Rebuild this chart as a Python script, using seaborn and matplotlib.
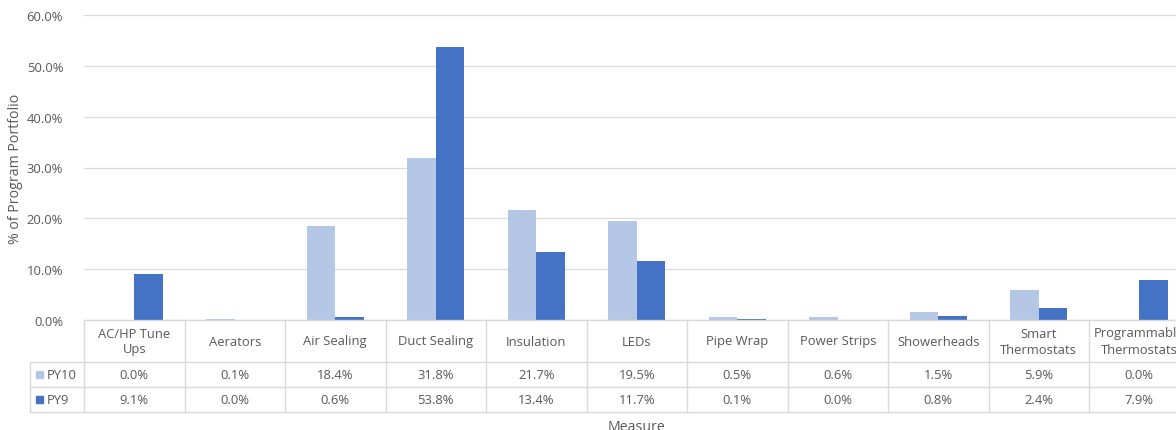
import matplotlib
matplotlib.use("Agg")
import matplotlib.pyplot as plt
import matplotlib.transforms as mtransforms
from matplotlib.lines import Line2D
from matplotlib.patches import Rectangle
from matplotlib.ticker import PercentFormatter
import pandas as pd
import seaborn as sns

# Share of program portfolio by measure, two program years
measures = ["AC/HP Tune\nUps", "Aerators", "Air Sealing", "Duct Sealing", "Insulation",
            "LEDs", "Pipe Wrap", "Power Strips", "Showerheads", "Smart\nThermostats",
            "Programmable\nThermostats"]
series = ["PY10", "PY9"]
py10 = [0.0, 0.1, 18.4, 31.8, 21.7, 19.5, 0.5, 0.6, 1.5, 5.9, 0.0]
py9 = [9.1, 0.0, 0.6, 53.8, 13.4, 11.7, 0.1, 0.0, 0.8, 2.4, 7.9]
colors = {"PY10": "#B4C7E7", "PY9": "#4472C4"}

df = pd.DataFrame({
    "Measure": measures * 2,
    "Series": ["PY10"] * len(measures) + ["PY9"] * len(measures),
    "Value": py10 + py9,
})

sns.set_theme(style="white")
plt.rcParams["font.family"] = ["Open Sans", "DejaVu Sans"]
TXT = "#595959"
GRID = "#D9D9D9"

W, H = 1176, 431
fig = plt.figure(figsize=(W / 100, H / 100), dpi=100)

def fx(px):
    return px / W

def fy(py):
    return 1 - py / H

# plot area (extends slightly past the right edge of the canvas)
left, right, top, bottom = 84, 1189.5, 16, 321
ax = fig.add_axes([fx(left), fy(bottom), fx(right - left), fy(top) - fy(bottom)])

sns.barplot(data=df, x="Measure", y="Value", hue="Series", hue_order=series,
            palette=colors, width=0.57, dodge=True, ax=ax, legend=False,
            saturation=1, linewidth=0)

fs = 9.4
ax.set_ylim(0, 60)
ax.set_xlim(-0.5, len(measures) - 0.5)
ax.set_yticks(range(0, 61, 10))
ax.yaxis.set_major_formatter(PercentFormatter(decimals=1))
ax.tick_params(axis="y", length=0, labelsize=fs, labelcolor=TXT, pad=15)
ax.set_xticks([])
ax.set_xlabel("")
ax.set_ylabel("% of Program Portfolio", fontsize=10.2, color=TXT)
ax.yaxis.set_label_coords(-(84 - 23) / (right - left), 0.5)
ax.grid(axis="y", color=GRID, linewidth=0.9)
ax.set_axisbelow(True)
for s in ax.spines.values():
    s.set_visible(False)

# data table under the axis: x in category units, y in figure fraction
tr = mtransforms.blended_transform_factory(ax.transData, fig.transFigure)
tr_fig = fig.transFigure
y_top, y_hdr, y_r1, y_r2 = 321, 363, 388, 413
x0, x1 = -0.5, len(measures) - 0.5
lw = 1.0

def hline(py, xa, xb, transform):
    fig.add_artist(Line2D([xa, xb], [fy(py), fy(py)], color=GRID, lw=lw,
                          transform=transform, clip_on=False))

def vline(x, pa, pb, transform):
    fig.add_artist(Line2D([x, x], [fy(pa), fy(pb)], color=GRID, lw=lw,
                          transform=transform, clip_on=False))

hline(y_top, x0, x1, tr)
for py in (y_hdr, y_r1, y_r2):
    hline(py, x0, x1, tr)
    hline(py, fx(30), fx(84), tr_fig)
for i in range(len(measures) + 1):
    vline(i - 0.5, y_top, y_r2, tr)
vline(fx(30), y_hdr, y_r2, tr_fig)

for i, m in enumerate(measures):
    fig.text(i, fy((y_top + y_hdr) / 2), m, transform=tr, ha="center", va="center",
             fontsize=fs, color=TXT, linespacing=1.3)
    fig.text(i, fy((y_hdr + y_r1) / 2), f"{py10[i]:.1f}%", transform=tr,
             ha="center", va="center", fontsize=fs, color=TXT)
    fig.text(i, fy((y_r1 + y_r2) / 2), f"{py9[i]:.1f}%", transform=tr,
             ha="center", va="center", fontsize=fs, color=TXT)

for name, (pa, pb) in zip(series, [(y_hdr, y_r1), (y_r1, y_r2)]):
    yc = (pa + pb) / 2
    fig.add_artist(Rectangle((fx(36), fy(yc + 3.5)), fx(7), fy(yc - 3.5) - fy(yc + 3.5),
                             transform=tr_fig, color=colors[name], clip_on=False))
    fig.text(fx(47), fy(yc), name, ha="left", va="center", fontsize=fs, color=TXT)

fig.text(fx((left + right) / 2), fy(428), "Measure", ha="center", va="center",
         fontsize=10.2, color=TXT)

fig.savefig("out.png", dpi=100)
